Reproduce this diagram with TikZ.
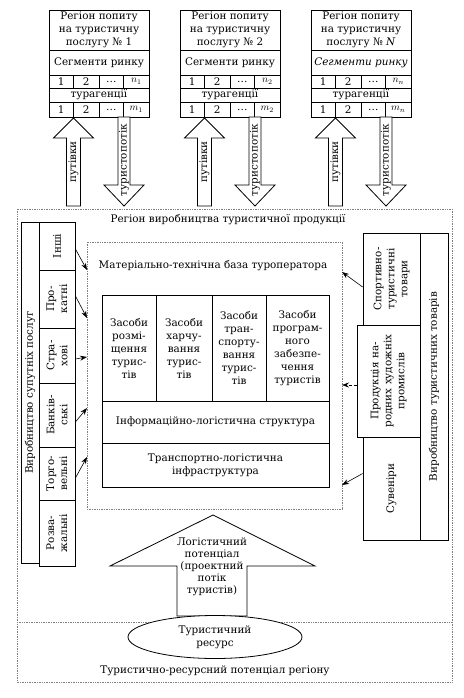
\documentclass[tikz,border=0pt]{standalone}
\usepackage{fontspec}
\setmainfont{DejaVu Serif}
\usetikzlibrary{arrows.meta,shapes.geometric}

\begin{document}
\begin{tikzpicture}[>={Stealth[length=7pt,width=5pt]},x=1pt,y=-1pt,font=\fontsize{10.4}{13}\selectfont,
    box/.style={draw,line width=0.8pt,inner sep=0pt,align=center},
    regline/.style={densely dotted,line width=0.7pt,gray},
    vlab/.style={label={[rotate=90,align=center]center:#1}}]
\useasboundingbox (0,0) rectangle (463,698);
\draw[regline] (17,209) rectangle (452,682);
\draw[regline] (17,622) -- (452,622);
\draw[regline] (87,242) rectangle (342,509);
\foreach \bx/\px/\nr/\sub/\shp in {1/49/1/1/\upshape,2/180/2/2/\upshape,3/311/\textit{N}/n/\itshape}{
    \node[box,minimum width=100pt,minimum height=40pt] (reg\bx) at (\px+50,30) {Регіон попиту\\на туристичну\\послугу № \nr};
    \node[box,minimum width=100pt,minimum height=25pt] (seg\bx) at (\px+50,62.5) {\shp Сегменти ринку};
    \node[box,minimum width=100pt,minimum height=14pt] (tag\bx) at (\px+50,95) {турагенції};
    \foreach \k/\col/\cw/\lab/\labm in {1/12.25/24.5/1/1,2/37.25/25.5/2/2,3/62.25/24.5/\dots/\dots,4/87.25/25.5/$n_{\sub}$/$m_{\sub}$}{
        \node[box,minimum width=\cw pt,minimum height=13pt] (n\bx\k) at (\px+\col,81.5) {\lab};
        \node[box,minimum width=\cw pt,minimum height=15pt] (m\bx\k) at (\px+\col,109.5) {\labm};
    }
    \draw[fill=white,line width=0.8pt,shift={(\px+24.5,0)}] (0,118) -- (20,138) -- (7,138) -- (7,206)
        -- (-7,206) -- (-7,138) -- (-20,138) -- cycle;
    \draw[fill=white,line width=0.8pt,shift={(\px+75,0)}] (-6,117) -- (6,117) -- (6,185) -- (20,185)
        -- (0,206) -- (-20,185) -- (-6,185) -- cycle;
    \node[rotate=90] (put\bx) at (\px+24.5,162) {путівки};
    \node[rotate=90] (tp\bx) at (\px+75,160) {туристопотік};
}
\node (regvyr) at (228,220) {Регіон виробництва туристичної продукції};
\node (mtb) at (213,266) {Матеріально-технічна база туроператора};
\node[box,minimum width=18pt,minimum height=341pt,vlab={Виробництво супутніх послуг}] (vsp) at (30,392.5) {};
\foreach \nm/\cy/\h/\lab in {inshi/246/48/Інші,prok/299/58/{Про-\\катні},strakh/355.5/55/{Стра-\\хові},
        bank/415/64/{Банків-\\ські},torg/473.5/53/{Торго-\\вельні},rozv/533/66/{Розва-\\жальні}}
    \node[box,minimum width=36pt,minimum height=\h pt,vlab={\lab}] (\nm) at (57,\cy) {};
\coordinate (l1) at (87,270);
\coordinate (l2) at (87,318);
\coordinate (l3) at (87,357);
\coordinate (l4) at (87,408);
\coordinate (l5) at (87,457);
\foreach \nm/\dy/\cn in {inshi/-3/l1,prok/3/l2,strakh/-3.5/l3,bank/-7/l4,torg/-4.5/l5}
    \draw[->,line width=0.6pt] ([yshift=\dy pt]\nm.east) -- (\cn);
\node[box,minimum width=28pt,minimum height=307pt,vlab={Виробництво туристичних товарів}] (vtt) at (434,386.5) {};
\node[box,minimum width=57pt,minimum height=92pt,vlab={Спортивно-\\туристичні\\товари}] (sport) at (391.5,279) {};
\node[box,minimum width=57pt,minimum height=103pt,vlab={Сувеніри}] (suv) at (391.5,488.5) {};
\node[box,minimum width=63pt,minimum height=112pt,vlab={Продукція на-\\родних художніх\\промислів}] (prod) at (388.5,381) {};
\coordinate (r1) at (342,272);
\coordinate (r2) at (342,385);
\coordinate (r3) at (342,485);
\draw[->,line width=0.6pt] ([yshift=-8pt]sport.west) -- (r1);
\draw[->,line width=0.6pt,densely dashed] ([yshift=-4pt]prod.west) -- (r2);
\draw[->,line width=0.6pt] ([yshift=15pt]suv.west) -- (r3);
\foreach \nm/\cx/\w/\lab in {rozm/129/54/{Засоби\\розмі-\\щення\\турис-\\тів},kharch/184/56/{Засоби\\харчу-\\вання\\турис-\\тів},
        transp/239/54/{Засоби\\тран-\\спорту-\\вання\\турис-\\тів},prog/297.5/63/{Засоби\\програм-\\ного\\забезпе-\\чення\\туристів}}
    \node[box,minimum width=\w pt,minimum height=106pt] (\nm) at (\cx,348) {\lab};
\node[box,minimum width=227pt,minimum height=42pt] (info) at (215.5,422) {Інформаційно-логістична структура};
\node[box,minimum width=227pt,minimum height=44pt] (trinf) at (215.5,465) {Транспортно-логістична\\інфраструктура};
\draw[fill=white,line width=0.8pt] (213,515) -- (315,566) -- (247,566) -- (247,616) -- (177,616)
    -- (177,566) -- (110,566) -- cycle;
\node[align=center,font=\fontsize{10.4}{12}\selectfont] (logpot) at (212,567) {Логістичний\\потенціал\\(проектний\\потік\\туристів)};
\node[draw,ellipse,line width=0.8pt,fill=white,minimum width=174pt,minimum height=43pt,inner sep=0pt,align=center] (tres) at (215,637) {Туристичний\\ресурс};
\node (trp) at (215,671) {Туристично-ресурсний потенціал регіону};
\end{tikzpicture}
\end{document}
